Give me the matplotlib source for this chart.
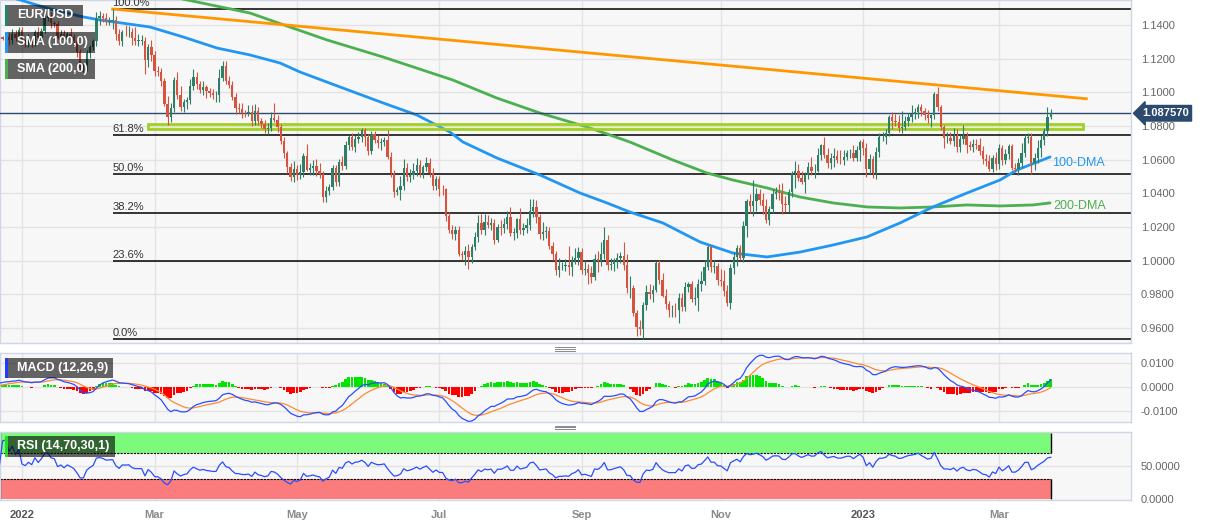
import numpy as np
import pandas as pd
import matplotlib
matplotlib.use('Agg')
import matplotlib.pyplot as plt
from matplotlib.patches import Rectangle
from matplotlib.lines import Line2D

plt.rcParams['font.family'] = ['Liberation Sans', 'DejaVu Sans']

# ---------------- data ----------------
start_date = '2021-12-17'
open0 = 1.1330
closes = [
    # Dec 2021 (from 17th)
    1.1238, 1.1282, 1.1282, 1.1328, 1.1329, 1.1319, 1.1330, 1.1310, 1.1349, 1.1325, 1.1370,
    # Jan 2022
    1.1299, 1.1288, 1.1313, 1.1297, 1.1360, 1.1325, 1.1367, 1.1443, 1.1454, 1.1413,
    1.1406, 1.1325, 1.1345, 1.1312, 1.1345, 1.1326, 1.1302, 1.1240, 1.1144, 1.1146, 1.1235,
    # Feb 2022
    1.1271, 1.1302, 1.1440, 1.1452, 1.1441, 1.1418, 1.1424, 1.1427, 1.1349, 1.1306,
    1.1359, 1.1356, 1.1361, 1.1321, 1.1307, 1.1307, 1.1307, 1.1193, 1.1270, 1.1219,
    # Mar 2022
    1.1125, 1.1118, 1.1065, 1.0930, 1.0855, 1.0905, 1.1075, 1.0985, 1.0912, 1.0941,
    1.0955, 1.1036, 1.1093, 1.1050, 1.1015, 1.1030, 1.1006, 1.0997, 1.0983, 1.0985,
    1.1088, 1.1157, 1.1067,
    # Apr 2022
    1.1046, 1.0970, 1.0904, 1.0900, 1.0880, 1.0877, 1.0884, 1.0828, 1.0888, 1.0827,
    1.0809, 1.0781, 1.0790, 1.0850, 1.0837, 1.0795, 1.0713, 1.0637, 1.0558, 1.0498, 1.0545,
    # May 2022
    1.0508, 1.0525, 1.0622, 1.0541, 1.0549, 1.0560, 1.0530, 1.0513, 1.0380, 1.0413,
    1.0437, 1.0548, 1.0465, 1.0586, 1.0562, 1.0690, 1.0735, 1.0676, 1.0725, 1.0733,
    1.0776, 1.0735,
    # Jun 2022
    1.0650, 1.0750, 1.0719, 1.0697, 1.0703, 1.0716, 1.0616, 1.0518, 1.0409, 1.0418,
    1.0445, 1.0548, 1.0495, 1.0510, 1.0535, 1.0567, 1.0522, 1.0555, 1.0583, 1.0519,
    1.0443, 1.0484,
    # Jul 2022
    1.0425, 1.0423, 1.0265, 1.0183, 1.0160, 1.0183, 1.0040, 1.0036, 1.0060, 1.0019,
    1.0083, 1.0143, 1.0225, 1.0180, 1.0229, 1.0212, 1.0225, 1.0121, 1.0200, 1.0195, 1.0220,
    # Aug 2022
    1.0260, 1.0165, 1.0165, 1.0245, 1.0180, 1.0195, 1.0212, 1.0298, 1.0320, 1.0259,
    1.0160, 1.0170, 1.0178, 1.0088, 1.0039, 0.9943, 0.9967, 0.9968, 0.9974, 0.9965,
    1.0000, 1.0017, 1.0054,
    # Sep 2022
    0.9944, 0.9953, 0.9928, 0.9903, 1.0010, 1.0000, 1.0040, 1.0121, 0.9975, 0.9978,
    0.9998, 1.0014, 1.0028, 0.9972, 0.9837, 0.9837, 0.9689, 0.9608, 0.9593, 0.9735,
    0.9813, 0.9802,
    # Oct 2022
    0.9826, 0.9986, 0.9884, 0.9793, 0.9740, 0.9704, 0.9706, 0.9704, 0.9780, 0.9723,
    0.9841, 0.9860, 0.9775, 0.9781, 0.9859, 0.9877, 0.9965, 1.0079, 0.9964, 0.9966, 0.9883,
    # Nov 2022
    0.9877, 0.9818, 0.9751, 0.9959, 1.0020, 1.0073, 1.0014, 1.0208, 1.0354, 1.0325,
    1.0353, 1.0394, 1.0363, 1.0325, 1.0244, 1.0304, 1.0395, 1.0405, 1.0400, 1.0337,
    1.0330, 1.0406,
    # Dec 2022
    1.0522, 1.0535, 1.0493, 1.0467, 1.0507, 1.0555, 1.0530, 1.0535, 1.0630, 1.0685,
    1.0628, 1.0583, 1.0608, 1.0622, 1.0600, 1.0597, 1.0617, 1.0640, 1.0640, 1.0612,
    1.0660, 1.0705,
    # Jan 2023
    1.0670, 1.0546, 1.0604, 1.0522, 1.0644, 1.0733, 1.0735, 1.0760, 1.0851, 1.0831,
    1.0821, 1.0787, 1.0795, 1.0830, 1.0856, 1.0870, 1.0885, 1.0915, 1.0889, 1.0868,
    1.0847, 1.0863,
    # Feb 2023
    1.0990, 1.0910, 1.0795, 1.0727, 1.0727, 1.0713, 1.0740, 1.0678, 1.0724, 1.0740,
    1.0690, 1.0675, 1.0694, 1.0686, 1.0650, 1.0605, 1.0595, 1.0545, 1.0608, 1.0576,
    # Mar 2023 (to 23rd)
    1.0670, 1.0597, 1.0633, 1.0682, 1.0548, 1.0546, 1.0580, 1.0642, 1.0730, 1.0732,
    1.0578, 1.0609, 1.0670, 1.0718, 1.0768, 1.0856, 1.08757,
]
upper_wick_pips = (
    [20, 25, 15, 18, 12, 8, 30, 20, 30, 22, 16] +
    [16, 20, 35, 15, 10, 30, 15, 20, 28, 22, 10, 20, 25, 25, 15, 35, 20, 15, 20, 25, 15] +
    [10, 15, 40, 30, 20, 30, 25, 68, 25, 30, 10, 40, 35, 20, 65, 40, 35, 20, 15, 40] +
    [25, 30, 25, 20, 50, 30, 15, 46, 50, 20, 15, 45, 45, 25, 20, 40, 15, 20, 20, 20, 50, 30, 28] +
    [30, 20, 25, 30, 35, 15, 40, 40, 40, 25, 20, 25, 30, 35, 86, 30, 15, 20, 15, 20, 49] +
    [25, 50, 20, 70, 30, 40, 45, 50, 20, 30, 20, 20, 20, 20, 35, 20, 13, 25, 20, 30, 10, 15] +
    [15, 20, 20, 30, 25, 20, 58, 30, 20, 20, 60, 53, 30, 35, 45, 40, 30, 15, 32, 24, 30, 20] +
    [20, 25, 10, 25, 30, 25, 20, 20, 25, 40, 15, 30, 48, 50, 49, 45, 30, 20, 20, 40, 35] +
    [33, 60, 30, 10, 70, 30, 40, 70, 48, 40, 20, 60, 30, 20, 20, 20, 50, 25, 35, 116, 30, 60, 25] +
    [20, 50, 30, 40, 30, 50, 70, 77, 30, 40, 20, 30, 25, 80, 70, 70, 20, 20, 40, 20, 40, 50] +
    [30, 13, 20, 40, 40, 20, 30, 40, 30, 30, 30, 15, 20, 60, 30, 60, 40, 15, 14, 40, 20] +
    [70, 70, 40, 20, 30, 20, 20, 30, 10, 40, 128, 40, 30, 40, 40, 20, 30, 30, 50, 60, 50, 20] +
    [10, 60, 40, 40, 20, 30, 60, 40, 40, 10, 51, 40, 30, 50, 35, 60, 40, 20, 25, 50, 20, 10] +
    [20, 30, 30, 20, 30, 27, 30, 20, 15, 35, 40, 45, 92, 30, 20, 57, 20, 15, 15, 20, 30, 10] +
    [10, 43, 15, 10, 40, 40, 50, 40, 20, 64, 25, 20, 30, 30, 40, 30, 30, 30, 20, 37] +
    [21, 20, 30, 12, 10, 30, 30, 55, 20, 27, 28, 30, 44, 30, 20, 57, 25]
)
lower_wick_pips = (
    [25, 30, 20, 22, 15, 10, 12, 28, 25, 20, 18] +
    [15, 18, 20, 25, 20, 20, 30, 15, 20, 30, 15, 10, 30, 10, 20, 35, 25, 30, 20, 25, 20] +
    [30, 20, 25, 40, 25, 20, 20, 50, 40, 25, 30, 20, 25, 40, 25, 30, 25, 87, 40, 30] +
    [30, 20, 30, 10, 49, 30, 20, 25, 20, 30, 40, 25, 20, 30, 20, 30, 40, 25, 20, 40, 45, 20, 20] +
    [20, 15, 30, 20, 30, 25, 20, 30, 20, 20, 20, 20, 30, 20, 15, 30, 20, 30, 40, 27, 30] +
    [30, 20, 30, 10, 30, 40, 25, 20, 30, 31, 25, 20, 20, 20, 25, 15, 30, 20, 30, 25, 30, 55] +
    [25, 15, 20, 30, 40, 20, 10, 20, 30, 20, 59, 25, 20, 30, 25, 30, 25, 30, 20, 20, 25, 25] +
    [40, 30, 30, 20, 30, 40, 15, 30, 60, 67, 30, 20, 30, 20, 30, 20, 30, 20, 10, 40, 30] +
    [30, 20, 40, 30, 20, 25, 30, 30, 40, 35, 30, 40, 35, 20, 35, 30, 42, 20, 30, 50, 55, 20, 40] +
    [25, 30, 64, 35, 20, 70, 30, 30, 30, 30, 40, 40, 30, 30, 30, 60, 20, 55, 37, 57, 30, 30] +
    [50, 10, 20, 10, 30, 40, 40, 40, 72, 20, 20, 30, 20, 40, 80, 40, 20, 20, 30, 40, 30] +
    [30, 30, 21, 40, 40, 50, 10, 20, 70, 40, 60, 60, 30, 50, 22, 30, 20, 30, 40, 60, 40, 40] +
    [30, 90, 20, 10, 64, 20, 20, 40, 10, 30, 20, 30, 40, 50, 20, 20, 30, 20, 30, 20, 20, 70] +
    [40, 50, 30, 30, 39, 30, 20, 40, 20, 50, 20, 20, 30, 20, 30, 30, 30, 40, 30, 30, 30, 50] +
    [20, 20, 20, 60, 30, 20, 30, 30, 30, 30, 50, 20, 30, 20, 20, 30, 30, 10, 20, 40] +
    [30, 30, 20, 30, 10, 22, 40, 30, 25, 30, 62, 40, 30, 55, 30, 30, 15]
)

# Fibonacci retracement (swing high / low)
fib_start = '2022-02-10'
fib_high = 1.1495
fib_low = 0.9536
fib_ratios = [0.0, 0.236, 0.382, 0.5, 0.618, 1.0]
fib_labels = ['0.0%', '23.6%', '38.2%', '50.0%', '61.8%', '100.0%']

# falling trend line (orange)
trend_dates = ['2022-02-10', '2023-04-07']
trend_vals = [1.1495, 1.0962]

# horizontal support/resistance zone
zone_dates = ['2022-02-25', '2023-04-06']
zone_vals = [1.0785, 1.0810]

# moving averages (trading days after 2022-01-03, value)
sma100_idx = [-6.8, -0.6, 8.7, 18.9, 24.1, 39.6, 49.8, 60.3, 70.5, 79.8, 85.9, 98.3, 111.6,
              122.1, 132.3, 136.3, 146.8, 160.1, 172.5, 180.8, 187.9, 198.1, 209.6, 219.8,
              230.3, 240.5, 250.7, 261.2, 271.4, 281.6, 292.1, 302.3, 307.6, 317.8]
sma100_val = [1.1578, 1.1549, 1.1495, 1.1448, 1.1430, 1.1388, 1.1329, 1.1263, 1.1222, 1.1174,
              1.1121, 1.1032, 1.0937, 1.0865, 1.0764, 1.0705, 1.0610, 1.0509, 1.0402, 1.0343,
              1.0289, 1.0224, 1.0111, 1.0045, 1.0022, 1.0051, 1.0093, 1.0141, 1.0224, 1.0319,
              1.0402, 1.0479, 1.0539, 1.0616]
sma200_idx = [-6.8, 51.0, 70.5, 82.8, 94.3, 111.6, 133.2, 146.8, 160.1, 174.7, 187.9, 201.2,
              211.7, 219.8, 230.3, 240.5, 250.7, 261.2, 271.4, 281.6, 292.1, 302.3, 312.5, 317.8]
sma200_val = [1.1774, 1.1549, 1.1471, 1.1388, 1.1311, 1.1210, 1.1073, 1.0966, 1.0877, 1.0794,
              1.0705, 1.0598, 1.0521, 1.0479, 1.0432, 1.0378, 1.0343, 1.0319, 1.0313, 1.0319,
              1.0331, 1.0325, 1.0331, 1.0343]

tick_dates = ['2022-01-03', '2022-03-01', '2022-05-02', '2022-07-01', '2022-09-01',
              '2022-11-01', '2023-01-02', '2023-03-01']
tick_labels = ['2022', 'Mar', 'May', 'Jul', 'Sep', 'Nov', '2023', 'Mar']
price_ticks = [0.96, 0.98, 1.00, 1.02, 1.04, 1.06, 1.08, 1.10, 1.12, 1.14]

# ---------------- derived ----------------
n = len(closes)
dates = pd.bdate_range(start_date, periods=n + 60)
def dpos(d):
    return dates.get_loc(pd.Timestamp(d))

pos = np.arange(n)
c = np.array(closes)
o = np.r_[open0, c[:-1]]
hi = np.maximum(o, c) + np.array(upper_wick_pips) / 1e4
lo = np.minimum(o, c) - np.array(lower_wick_pips) / 1e4
GREEN, RED = '#2e7f68', '#d6543f'
ccol = np.where(c >= o, GREEN, RED)

s = pd.Series(c)
ema12 = s.ewm(span=12, adjust=False).mean()
ema26 = s.ewm(span=26, adjust=False).mean()
macd = ema12 - ema26
signal = macd.ewm(span=9, adjust=False).mean()
hist = macd - signal
delta = s.diff().fillna(0)
gain = delta.clip(lower=0).ewm(alpha=1 / 14, adjust=False).mean()
loss = (-delta).clip(lower=0).ewm(alpha=1 / 14, adjust=False).mean()
rsi = 100 - 100 / (1 + gain / loss.replace(0, np.nan))
rsi = rsi.fillna(50)

jan3 = dpos('2022-01-03')
PPB = 3.235
x_left = jan3 - 22 / PPB
x_right = x_left + 1131 / PPB

# ---------------- figure ----------------
W, H = 1207, 526
fig = plt.figure(figsize=(W / 100, H / 100), dpi=100)
fig.patch.set_facecolor('white')

def fr(x0, y0, x1, y1):
    return [x0 / W, 1 - y1 / H, (x1 - x0) / W, (y1 - y0) / H]

ax = fig.add_axes(fr(0, 0, 1131, 343))
axm = fig.add_axes(fr(0, 353, 1131, 422))
axr = fig.add_axes(fr(0, 432, 1131, 500))

tick_pos = [dpos(d) for d in tick_dates]
for a in (ax, axm, axr):
    a.set_facecolor('#f7f7f7')
    for sp in a.spines.values():
        sp.set_color('#cfd6e6')
        sp.set_linewidth(1)
    a.set_xlim(x_left, x_right)
    a.set_xticks(tick_pos)
    a.set_axisbelow(True)
    a.grid(True, color='#e3e3e3', lw=1)
    a.yaxis.tick_right()
    a.tick_params(axis='both', length=0, labelsize=8, labelcolor='#666666')
    a.tick_params(axis='y', pad=7)
ax.set_xticklabels([])
axm.set_xticklabels([])
axr.set_xticklabels(tick_labels, fontweight='bold')
axr.tick_params(axis='x', pad=7)
for lab, t in zip(axr.get_xticklabels(), tick_labels):
    lab.set_color('#555555' if t.isdigit() else '#8a8a8a')

# ---- main price panel ----
ax.set_ylim(1.154852 - 343 / 1683.3, 1.154852)
ax.set_yticks(price_ticks)
ax.set_yticklabels([f'{v:.4f}' for v in price_ticks])

# fib levels
fx = dpos(fib_start)
for r, lab in zip(fib_ratios, fib_labels):
    lvl = fib_low + r * (fib_high - fib_low)
    ax.hlines(lvl, fx, x_right, color='black', lw=1.1, zorder=2)
    ax.text(fx, lvl + 0.0007, lab, ha='left', va='bottom', fontsize=8, color='#333333', zorder=6)

# moving averages
ax.plot(np.array(sma200_idx) + jan3, sma200_val, color='#4caf50', lw=2, zorder=3, solid_capstyle='round')
ax.plot(np.array(sma100_idx) + jan3, sma100_val, color='#2196f3', lw=2, zorder=3, solid_capstyle='round')
ax.plot([dpos(d) for d in trend_dates], trend_vals, color='#ff9800', lw=2, zorder=3)

# zone
z0, z1 = dpos(zone_dates[0]), dpos(zone_dates[1])
ax.add_patch(Rectangle((z0, zone_vals[0]), z1 - z0, zone_vals[1] - zone_vals[0],
                       facecolor=(0.78, 0.92, 0.35, 0.25), edgecolor='#a2cf26', lw=2, zorder=4))

# candles
ax.vlines(pos, lo, hi, colors=ccol, lw=0.8, zorder=5)
body = np.maximum(np.abs(c - o), 0.00025)
ax.bar(pos, body, bottom=np.minimum(o, c), width=0.72, color=ccol, linewidth=0, zorder=5)

# current price line and label
last = closes[-1]
ax.axhline(last, color='#2b4a6e', lw=1, zorder=4)
ax.annotate(f'{last:.6f}', xy=(1.0, last), xycoords=('axes fraction', 'data'),
            xytext=(11, 0), textcoords='offset pixels', ha='left', va='center',
            fontsize=8, fontweight='bold', color='white', annotation_clip=False,
            bbox=dict(boxstyle='larrow,pad=0.25', fc='#2b4a6e', ec='#2b4a6e'))

# DMA labels
ax.text(n - 1 + 0.4, sma100_val[-1] - 0.0036, '100-DMA', color='#2196f3', fontsize=9,
        ha='left', va='center', zorder=6)
ax.text(n - 1 + 0.7, sma200_val[-1] - 0.0018, '200-DMA', color='#4caf50', fontsize=9,
        ha='left', va='center', zorder=6)

# ---- MACD panel ----
axm.set_ylim(-0.01458, 0.01417)
axm.set_yticks([0.01, 0.0, -0.01])
axm.set_yticklabels(['0.0100', '0.0000', '-0.0100'])
hcol = np.where(hist >= 0, '#00e600', '#ff0000')
axm.bar(pos, hist, width=0.85, color=hcol, linewidth=0, zorder=2)
axm.plot(pos, signal, color='#ff8a33', lw=0.9, zorder=3)
axm.plot(pos, macd, color='#2a4dff', lw=0.9, zorder=4)

# ---- RSI panel ----
axr.set_ylim(-1.5, 101.5)
axr.set_yticks([0, 50])
axr.set_yticklabels(['0.0000', '50.0000'])
axr.grid(False, axis='y')
axr.axhline(50, color='#e3e3e3', lw=1, zorder=0)
band_end = n - 1
axr.add_patch(Rectangle((x_left, 70), band_end - x_left, 30, facecolor='#7cfa7c', lw=0, zorder=1))
axr.add_patch(Rectangle((x_left, 0), band_end - x_left, 30, facecolor='#fa7c7c', lw=0, zorder=1))
axr.hlines([70, 30], x_left, band_end, colors='black', linestyles=(0, (2, 1)), lw=0.8, zorder=2)
for xv in (band_end, x_left + 0.15):
    axr.vlines([xv, xv], [70, 0], [100, 30], colors='black', lw=1, zorder=2)
axr.plot(pos, rsi, color='#2a4dff', lw=0.9, zorder=3)

# ---- legend boxes ----
def label_box(x0, y0, x1, y1, stripe, text):
    fig.add_artist(Rectangle((x0 / W, 1 - y1 / H), (x1 - x0) / W, (y1 - y0) / H,
                             transform=fig.transFigure, facecolor='black', alpha=0.6, lw=0))
    fig.add_artist(Rectangle((x0 / W, 1 - y1 / H), 2.5 / W, (y1 - y0) / H,
                             transform=fig.transFigure, facecolor=stripe, lw=0))
    fig.text((x0 + 12) / W, 1 - (y0 + y1) / 2 / H, text, color='white', fontsize=9,
             fontweight='bold', ha='left', va='center')

label_box(5, 5, 83, 26, '#26806a', 'EUR/USD')
label_box(5, 32, 95, 53, '#2196f3', 'SMA (100,0)')
label_box(5, 59, 95, 79, '#4caf50', 'SMA (200,0)')
label_box(5, 358, 113, 378, '#1f3cff', 'MACD (12,26,9)')
label_box(5, 436, 115, 457, '#22dd22', 'RSI (14,70,30,1)')

# panel resize handles
for yy in (347.3, 349, 350.7, 425.7, 427.4, 429.1):
    fig.add_artist(Line2D([555 / W, 575 / W], [1 - yy / H, 1 - yy / H],
                          transform=fig.transFigure, color='#8a8a8a', lw=0.7))

fig.savefig('out.png', dpi=100, facecolor='white')
